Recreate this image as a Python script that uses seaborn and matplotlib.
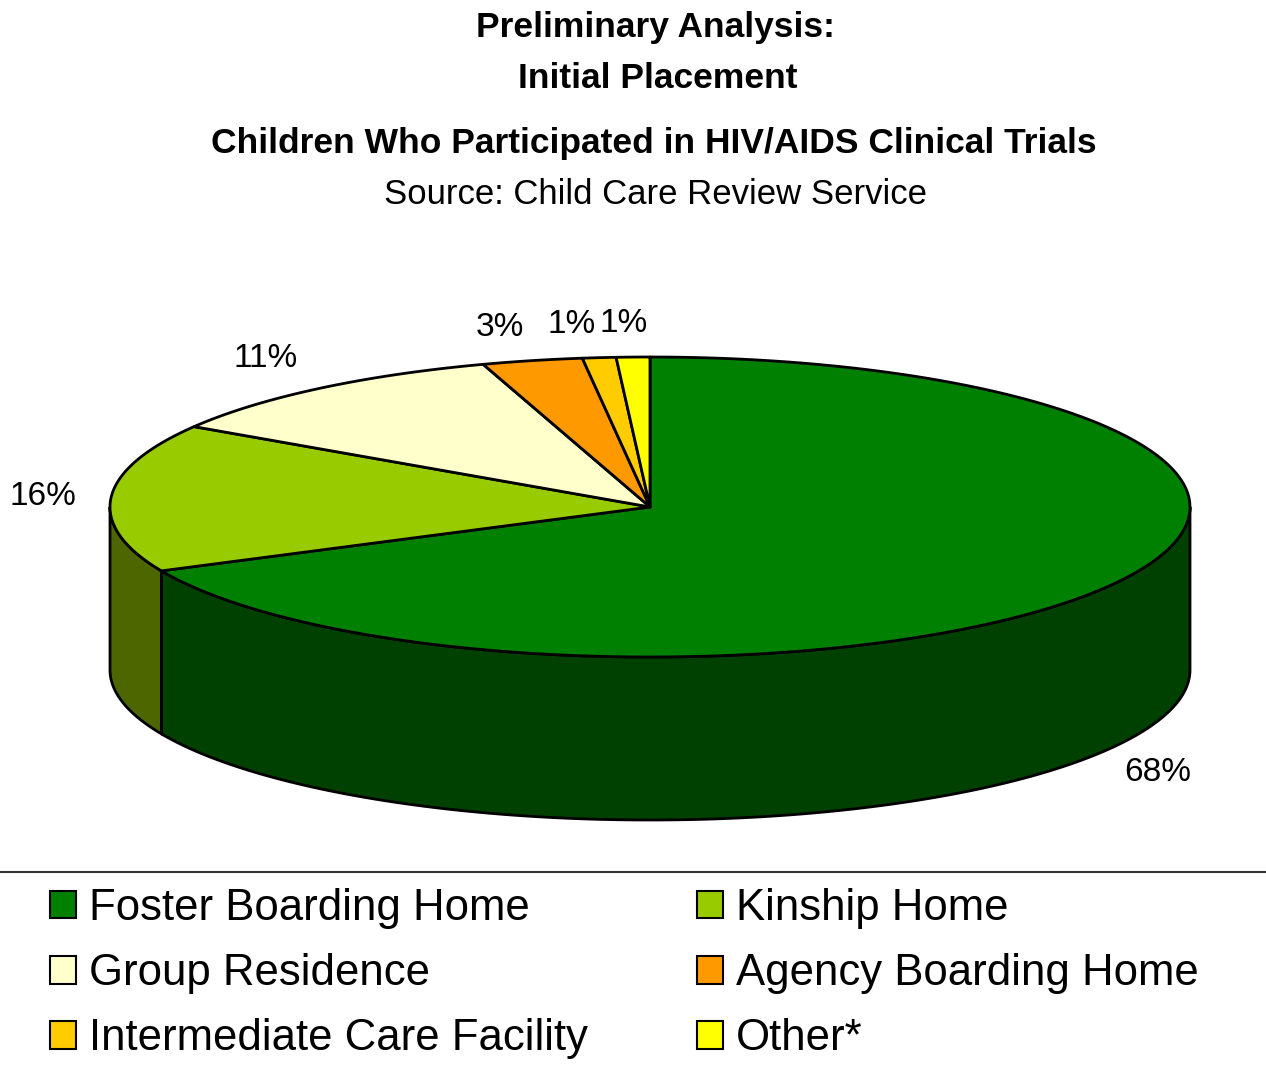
import numpy as np
import seaborn as sns
import matplotlib.pyplot as plt
from matplotlib.patches import Polygon, Patch
from matplotlib.lines import Line2D

# Data
categories = ['Foster Boarding Home', 'Kinship Home', 'Group Residence',
              'Agency Boarding Home', 'Intermediate Care Facility', 'Other*']
shares = [68, 16, 11, 3, 1, 1]
top_colors = ['#008000', '#99cc00', '#ffffcc', '#ff9900', '#ffcc00', '#ffff00']
side_colors = ['#004000', '#4d6600', '#808066', '#804c00', '#806600', '#808000']

sns.set_theme(style='white')
plt.rcParams['font.family'] = ['Liberation Sans', 'DejaVu Sans']
plt.rcParams['text.color'] = 'black'

W, H = 1266, 1065
fig = plt.figure(figsize=(W / 100, H / 100), dpi=100)
ax = fig.add_axes([0, 0, 1, 1])
ax.set_xlim(0, W)
ax.set_ylim(0, H)
ax.axis('off')

# pie geometry (pixel units, y up)
cx, cy = 650, H - 507
rx, ry = 540, 150
depth = 163


def arc(a1, a2, dy=0, n=200):
    t = np.radians(np.linspace(a1, a2, n))
    return np.column_stack([cx + rx * np.cos(t), cy + dy + ry * np.sin(t)])


total = sum(shares)
cum = np.concatenate([[0], np.cumsum(shares)]) / total
ends = 90 - 360 * cum  # clockwise from 12 o'clock

# side walls (visible front half only: -180..0 deg)
for i in range(len(shares)):
    a_hi, a_lo = ends[i], ends[i + 1]
    lo, hi = max(a_lo, -180), min(a_hi, 0)
    if hi <= lo:
        continue
    top = arc(lo, hi)
    bot = arc(hi, lo, dy=-depth)
    ax.add_patch(Polygon(np.vstack([top, bot]), closed=True,
                         facecolor=side_colors[i], edgecolor='black', lw=2, zorder=1))

# top wedges
for i in range(len(shares)):
    pts = np.vstack([[cx, cy], arc(ends[i + 1], ends[i])])
    ax.add_patch(Polygon(pts, closed=True, facecolor=top_colors[i],
                         edgecolor='black', lw=2, zorder=2, joinstyle='round'))

# percentage labels
for i, v in enumerate(shares):
    m = np.radians((ends[i] + ends[i + 1]) / 2)
    c, s = np.cos(m), np.sin(m)
    lx = cx + rx * (1.065 if c < 0 else 1.04) * c
    ly = cy + ry * 1.12 * s
    if s < 0:
        ly = cy + ry * 1.08 * s - depth
    if abs(c) < 0.05:
        ha = 'center'
        lx -= 8
    else:
        ha = 'left' if c > 0 else 'right'
    va = 'bottom' if s > 0.3 else ('top' if s < -0.3 else 'center')
    ax.text(lx, ly, f'{v}%', ha=ha, va=va, fontsize=24, color='black')

# titles
ax.text(655, H - 27, 'Preliminary Analysis:', ha='center', va='center',
        fontsize=25.5, fontweight='bold')
ax.text(658, H - 78, 'Initial Placement', ha='center', va='center',
        fontsize=25.5, fontweight='bold')
ax.text(654, H - 143, 'Children Who Participated in HIV/AIDS Clinical Trials',
        ha='center', va='center', fontsize=25.5, fontweight='bold')
ax.text(655, H - 195, 'Source: Child Care Review Service', ha='center',
        va='center', fontsize=25)

# separator line above legend
ax.add_line(Line2D([0, W], [H - 872, H - 872], color='#333333', lw=1.5))

# legend, two columns
leg_kw = dict(loc='upper left', frameon=False, fontsize=31.5, labelcolor='black',
              handlelength=0.6, handleheight=0.6, handletextpad=0.3,
              labelspacing=0.55, borderpad=0, borderaxespad=0)
for col, x0 in [([0, 2, 4], 50), ([1, 3, 5], 697)]:
    handles = [Patch(facecolor=top_colors[i], edgecolor='black', lw=1.5) for i in col]
    leg = fig.legend(handles, [categories[i] for i in col],
                     bbox_to_anchor=(x0 / W, 1 - 888 / H), **leg_kw)

fig.savefig('out.png', dpi=100)
